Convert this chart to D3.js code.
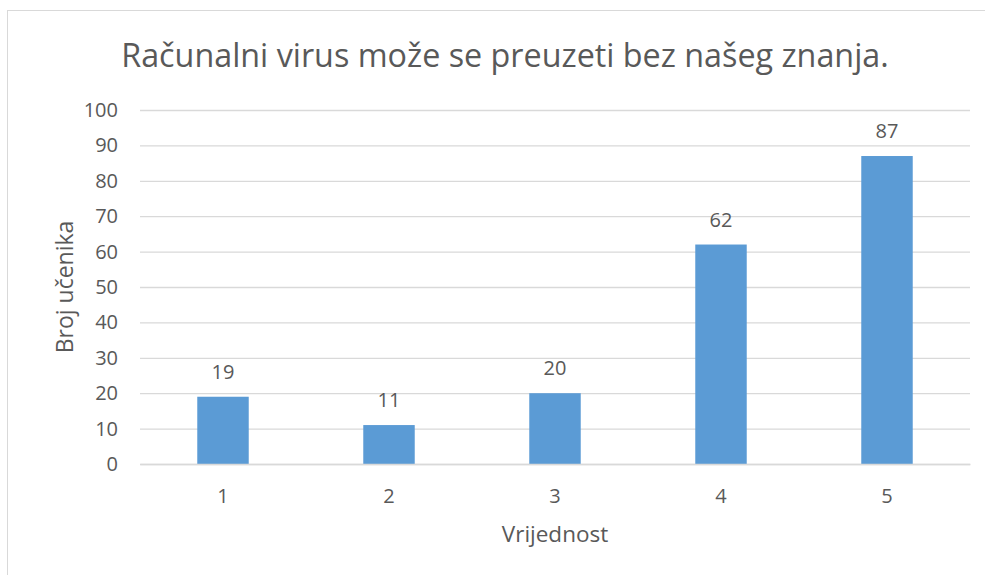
<!DOCTYPE html>
<html><head><meta charset="utf-8">
<script src="https://cdn.jsdelivr.net/npm/d3@7"></script>
<style>body{margin:0;background:#fff;}svg{display:block;font-family:"Open Sans",sans-serif;}</style>
</head><body>
<svg id="c" width="985" height="575"></svg>
<script>
const categories = ["1","2","3","4","5"];
const values = [19, 11, 20, 62, 87];
const yTicks = [0,10,20,30,40,50,60,70,80,90,100];
const title = "Računalni virus može se preuzeti bez našeg znanja.";
const xTitle = "Vrijednost";
const yTitle = "Broj učenika";

const svg = d3.select("#c");
const m = {left:140, right:15, top:110, bottom:111};
const W = 985, H = 575;
const txt = "#595959";

svg.append("rect").attr("x",7.5).attr("y",10.5).attr("width",990).attr("height",600)
  .attr("fill","#fff").attr("stroke","#d9d9d9").attr("stroke-width",1);

const x = d3.scaleBand().domain(categories).range([m.left, W-m.right]).paddingInner(0.69).paddingOuter(0.345);
const y = d3.scaleLinear().domain([0,100]).range([H-m.bottom, m.top]);

const gy = svg.append("g").attr("transform",`translate(${m.left},0)`)
  .call(d3.axisLeft(y).tickValues(yTicks).tickSize(-(W-m.right-m.left)).tickPadding(22));
gy.select(".domain").remove();
gy.selectAll(".tick line").attr("stroke","#d9d9d9").attr("stroke-width",1.3);
gy.selectAll(".tick text").attr("fill",txt).attr("font-size",20).attr("font-family","Open Sans");

svg.append("g").selectAll("rect").data(values).join("rect")
  .attr("x",(d,i)=>x(categories[i])).attr("width",x.bandwidth())
  .attr("y",d=>y(d)).attr("height",d=>y(0)-y(d)).attr("fill","#5b9bd5");

svg.append("g").selectAll("text").data(values).join("text")
  .attr("x",(d,i)=>x(categories[i])+x.bandwidth()/2).attr("y",d=>y(d)-18)
  .attr("text-anchor","middle").attr("fill",txt).attr("font-size",20).text(d=>d);

const gx = svg.append("g").attr("transform",`translate(0,${H-m.bottom})`)
  .call(d3.axisBottom(x).tickSize(0).tickPadding(25));
gx.select(".domain").attr("stroke","#d9d9d9").attr("stroke-width",1.3);
gx.selectAll(".tick text").attr("fill",txt).attr("font-size",20).attr("font-family","Open Sans");

svg.append("text").attr("x",(m.left+W-m.right)/2).attr("y",542).attr("text-anchor","middle")
  .attr("fill",txt).attr("font-size",22.5).text(xTitle);
svg.append("text").attr("transform",`translate(73,${(m.top+H-m.bottom)/2}) rotate(-90)`).attr("text-anchor","middle")
  .attr("fill",txt).attr("font-size",23).text(yTitle);
svg.append("text").attr("x",505).attr("y",67).attr("text-anchor","middle")
  .attr("fill",txt).attr("font-size",32.3).text(title);
</script>
</body></html>
